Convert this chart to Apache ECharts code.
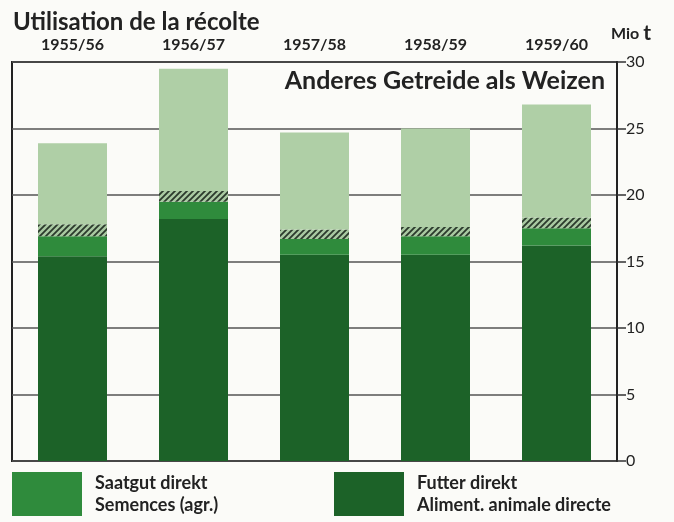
<!DOCTYPE html>
<html>
<head>
<meta charset="utf-8">
<script src="https://cdn.jsdelivr.net/npm/echarts@6/dist/echarts.min.js"></script>
<style>
  html, body { margin: 0; padding: 0; background: #fbfbf8; }
  #main { width: 674px; height: 522px; }
</style>
</head>
<body>
<div id="main"></div>
<script>
// years on top
var years = ['1955/56', '1956/57', '1957/58', '1958/59', '1959/60'];
// Mio t, stacked from bottom
var futterDirekt = [15.4, 18.2, 15.5, 15.5, 16.2];
var saatgutDirekt = [1.5, 1.3, 1.2, 1.4, 1.3];
var hatched = [0.9, 0.8, 0.7, 0.7, 0.8];
var rest = [6.1, 9.2, 7.3, 7.4, 8.5];
var yTicks = [0, 5, 10, 15, 20, 25, 30];

var legendText = {
    'Saatgut direkt': 'Saatgut direkt\nSemences (agr.)',
    'Futter direkt': 'Futter direkt\nAliment. animale directe'
};

// diagonal hatch pattern
var hatchCanvas = document.createElement('canvas');
hatchCanvas.width = 6;
hatchCanvas.height = 6;
var hc = hatchCanvas.getContext('2d');
hc.fillStyle = '#a9c9a2';
hc.fillRect(0, 0, 6, 6);
hc.strokeStyle = '#2b3a2c';
hc.lineWidth = 1.8;
hc.beginPath();
hc.moveTo(-1, 7); hc.lineTo(7, -1);
hc.moveTo(-4, 4); hc.lineTo(4, -4);
hc.moveTo(2, 10); hc.lineTo(10, 2);
hc.stroke();

var myChart = echarts.init(document.getElementById('main'));
var font = 'Lato, "DejaVu Sans", sans-serif';

function legendFor(name, left) {
    return {
        data: [name],
        left: left,
        top: 472,
        padding: 0,
        icon: 'rect',
        itemWidth: 70,
        itemHeight: 44,
        selectedMode: false,
        formatter: function (n) { return legendText[n]; },
        textStyle: { fontSize: 18, fontWeight: 'bold', color: '#222', lineHeight: 22, padding: [0, 0, 0, 8] }
    };
}

myChart.setOption({
    backgroundColor: '#fbfbf8',
    animation: false,
    textStyle: { fontFamily: font },
    title: {
        text: 'Utilisation de la récolte',
        left: 8,
        top: 5,
        textStyle: { fontSize: 24, fontWeight: 'bold', color: '#222', fontFamily: font }
    },
    graphic: [{
        type: 'text',
        right: 69,
        top: 68,
        style: {
            text: 'Anderes Getreide als Weizen',
            font: 'bold 25px ' + font,
            fill: '#222'
        },
        z: 10
    }],
    legend: [legendFor('Saatgut direkt', 12), legendFor('Futter direkt', 334)],
    grid: {
        left: 12,
        right: 57,
        top: 62,
        bottom: 61,
        show: true,
        borderColor: '#222',
        borderWidth: 2,
        backgroundColor: 'transparent'
    },
    xAxis: {
        type: 'category',
        position: 'top',
        data: years,
        axisLine: { show: false },
        axisTick: { show: false },
        axisLabel: { margin: 9, fontSize: 16, fontWeight: 'bold', color: '#222' }
    },
    yAxis: {
        type: 'value',
        position: 'right',
        min: yTicks[0],
        max: yTicks[yTicks.length - 1],
        interval: 5,
        name: '{a|Mio }{b|t}',
        nameLocation: 'end',
        nameGap: 18,
        nameTextStyle: {
            align: 'left',
            padding: [0, 0, 0, -6],
            rich: {
                a: { fontSize: 16, fontWeight: 'bold', color: '#222', fontFamily: font },
                b: { fontSize: 21, fontWeight: 'bold', color: '#222', fontFamily: font }
            }
        },
        axisLine: { show: true, lineStyle: { color: '#222', width: 2 } },
        axisTick: { show: true, inside: false, length: 9, lineStyle: { color: '#333', width: 1.5 } },
        axisLabel: { margin: 9, fontSize: 16, color: '#222' },
        splitLine: { show: true, lineStyle: { color: '#555', width: 1.5 } }
    },
    series: [{
        name: 'Futter direkt',
        type: 'bar',
        stack: 'total',
        barWidth: 69,
        data: futterDirekt,
        itemStyle: { color: '#1c6228' }
    }, {
        name: 'Saatgut direkt',
        type: 'bar',
        stack: 'total',
        data: saatgutDirekt,
        itemStyle: { color: '#2f8b3c' }
    }, {
        name: 'Verluste',
        type: 'bar',
        stack: 'total',
        data: hatched,
        itemStyle: { color: { image: hatchCanvas, repeat: 'repeat' } }
    }, {
        name: 'Übrige',
        type: 'bar',
        stack: 'total',
        data: rest,
        itemStyle: { color: '#afcfa6' }
    }]
});
</script>
</body>
</html>
